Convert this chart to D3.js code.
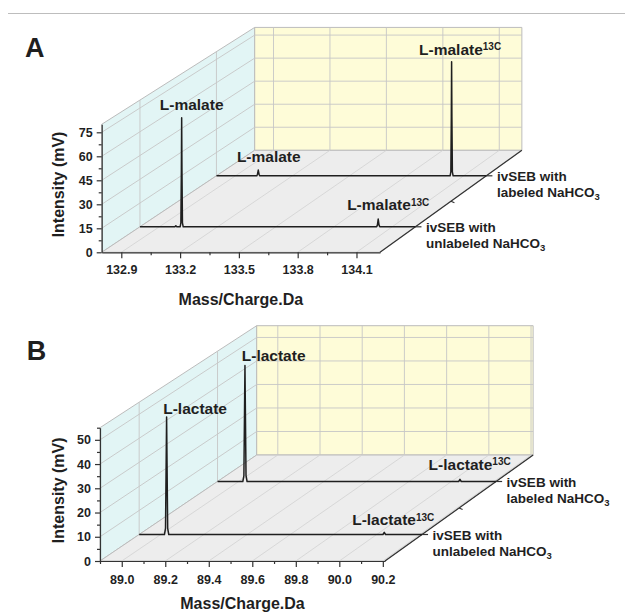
<!DOCTYPE html>
<html>
<head>
<meta charset="utf-8">
<script src="https://cdn.jsdelivr.net/npm/d3@7"></script>
<style>
  body { margin: 0; background: #fff; }
  svg { display: block; font-family: Arial, "Liberation Sans", sans-serif; font-weight: bold; }
</style>
</head>
<body>
<svg width="625" height="615"></svg>
<script>
// tick labels
const malateMassTicks = [132.9, 133.2, 133.5, 133.8, 134.1];
const malateIntensityTicks = [0, 15, 30, 45, 60, 75];
const lactateMassTicks = [89.0, 89.2, 89.4, 89.6, 89.8, 90.0, 90.2];
const lactateIntensityTicks = [0, 10, 20, 30, 40, 50];

// samples, front to back
const samples = ["unlabeled", "labeled"];

// spectra [m/z, intensity (mV)]
const malateUnlabeled = [
  [132.80, 0], [132.980, 0], [132.985, 0.7], [132.990, 0],
  [133.007, 0], [133.011, 2.5], [133.0135, 36], [133.015, 68.8], [133.0165, 36], [133.019, 2.5], [133.023, 0],
  [134.020, 0], [134.024, 1.2], [134.028, 4.9], [134.032, 1.2], [134.036, 0],
  [134.22, 0]
];
const malateLabeled = [
  [132.80, 0],
  [133.012, 0], [133.016, 1], [133.020, 3.7], [133.024, 1], [133.028, 0],
  [134.029, 0], [134.033, 2.5], [134.0355, 38], [134.037, 73.5], [134.0385, 38], [134.041, 2.5], [134.045, 0],
  [134.22, 0]
];
const lactateUnlabeled = [
  [88.90, 0],
  [89.017, 0], [89.022, 2.5], [89.025, 30], [89.027, 48.8], [89.029, 30], [89.032, 2.5], [89.037, 0],
  [90.029, 0], [90.035, 0.9], [90.041, 0],
  [90.21, 0]
];
const lactateLabeled = [
  [88.90, 0],
  [89.019, 0], [89.024, 2.5], [89.027, 30], [89.029, 49.0], [89.031, 30], [89.034, 2.5], [89.039, 0],
  [90.034, 0], [90.040, 0.9], [90.046, 0],
  [90.21, 0]
];

// peak annotations [sample index, m/z, name, isotope]
const malatePeaks = [
  [0, 133.015, "L-malate", ""],
  [0, 134.028, "L-malate", "13C"],
  [1, 133.020, "L-malate", ""],
  [1, 134.037, "L-malate", "13C"]
];
const lactatePeaks = [
  [0, 89.027, "L-lactate", ""],
  [0, 90.035, "L-lactate", "13C"],
  [1, 89.029, "L-lactate", ""],
  [1, 90.040, "L-lactate", "13C"]
];

// panel layouts
const panels = [
  {
    letter: "A", letterPos: [25, 56.7],
    domain: [132.8, 134.22], yMax: 80,
    ticks: malateMassTicks, yTicks: malateIntensityTicks,
    spectra: [malateUnlabeled, malateLabeled], peaks: malatePeaks,
    labelShift: [[10, -8], [10, -9], [10.5, -8], [8.5, -7]],
    origin: [101.7, 252.3], width: 278.3, height: 128, depth: [153, -102], shrink: 0.04,
    xTitleY: 305, tickPad: 7.3
  },
  {
    letter: "B", letterPos: [26.7, 360],
    domain: [88.9, 90.21], yMax: 55,
    ticks: lactateMassTicks, yTicks: lactateIntensityTicks,
    spectra: [lactateUnlabeled, lactateLabeled], peaks: lactatePeaks,
    labelShift: [[28.5, -3.5], [9, -7.3], [28.7, -4], [9.7, -9.4]],
    origin: [100, 561], width: 285, height: 133.3, depth: [156.7, -106], shrink: 0.03,
    xTitleY: 608.5, tickPad: 7.8
  }
];

const sampleDepths = [0.25, 0.75];
const ink = "#1f1f1f";
const gridColor = "#c6c6c6";

const svg = d3.select("svg");

// top rule
svg.append("line")
  .attr("x1", 8).attr("x2", 625)
  .attr("y1", 13.5).attr("y2", 13.5)
  .attr("stroke", "#bdbdbd")
  .attr("stroke-width", 1.2);

// midpoints between major ticks, kept inside the domain
function minorTicks(ticks, lo, hi) {
  const step = ticks[1] - ticks[0];
  const out = [];
  ticks.forEach(t => {
    [t - step / 2, t + step / 2].forEach(m => {
      if (m >= lo - 1e-9 && m <= hi + 1e-9 && !out.some(o => Math.abs(o - m) < 1e-9)) out.push(m);
    });
  });
  return out;
}

panels.forEach(p => {
  const ox = p.origin[0], oy = p.origin[1];

  // define scales (front plane)
  const x = d3.scaleLinear().domain(p.domain).range([ox, ox + p.width]);
  const y = d3.scaleLinear().domain([0, p.yMax]).range([oy, oy - p.height]);

  // oblique projection with slight shrink toward the back
  function pt(mz, v, z) {
    const s = 1 - p.shrink * z;
    return [
      ox + p.depth[0] * z + s * (x(mz) - ox),
      oy + p.depth[1] * z + s * (y(v) - oy)
    ];
  }

  const g = svg.append("g");
  const x0 = p.domain[0], x1 = p.domain[1], top = p.yMax;

  const poly = pts => "M" + pts.map(q => q.join(",")).join("L") + "Z";
  function seg(a, b, color, w) {
    g.append("line")
      .attr("x1", a[0]).attr("y1", a[1])
      .attr("x2", b[0]).attr("y2", b[1])
      .attr("stroke", color)
      .attr("stroke-width", w);
  }

  // walls and floor
  g.append("path")
    .attr("d", poly([pt(x0, 0, 0), pt(x0, top, 0), pt(x0, top, 1), pt(x0, 0, 1)]))
    .attr("fill", "#e2f5f5").attr("stroke", "#bcbcbc").attr("stroke-width", 1);
  g.append("path")
    .attr("d", poly([pt(x0, 0, 1), pt(x1, 0, 1), pt(x1, top, 1), pt(x0, top, 1)]))
    .attr("fill", "#fefcd8").attr("stroke", "#bcbcbc").attr("stroke-width", 1);
  g.append("path")
    .attr("d", poly([pt(x0, 0, 0), pt(x1, 0, 0), pt(x1, 0, 1), pt(x0, 0, 1)]))
    .attr("fill", "#ededed").attr("stroke", "#bcbcbc").attr("stroke-width", 1);

  // grid lines
  p.yTicks.filter(v => v > 0).forEach(v => {
    seg(pt(x0, v, 0), pt(x0, v, 1), gridColor, 0.9);
    seg(pt(x0, v, 1), pt(x1, v, 1), gridColor, 0.9);
  });
  p.ticks.forEach(t => {
    seg(pt(t, 0, 1), pt(t, top, 1), gridColor, 0.9);
    seg(pt(t, 0, 0), pt(t, 0, 1), "#d2d2d2", 0.8);
  });
  sampleDepths.forEach(z => {
    seg(pt(x0, 0, z), pt(x0, top, z), gridColor, 0.9);
  });

  // right floor edge (depth axis)
  seg(pt(x1, 0, 0), pt(x1, 0, 1), "#333", 1.2);
  sampleDepths.forEach(z => {
    const a = pt(x1, 0, z);
    seg(a, [a[0] + 6, a[1]], "#333", 1.2);
  });
  const mid = pt(x1, 0, 0.5);
  seg(mid, [mid[0] + 3.5, mid[1] + 1.5], "#333", 1.1);

  // spectra
  const line = d3.line();
  p.spectra.forEach((spec, i) => {
    g.append("path")
      .attr("d", line(spec.map(d => pt(d[0], d[1], sampleDepths[i]))))
      .attr("fill", "none")
      .attr("stroke", ink)
      .attr("stroke-width", 1.5)
      .attr("stroke-linejoin", "round");
  });

  // axes
  const xAxis = g.append("g")
    .attr("transform", "translate(0," + oy + ")")
    .call(d3.axisBottom(x).tickValues(p.ticks).tickFormat(d3.format(".1f"))
      .tickSize(6).tickSizeOuter(0).tickPadding(p.tickPad));
  g.append("g")
    .attr("transform", "translate(0," + oy + ")")
    .call(d3.axisBottom(x).tickValues(minorTicks(p.ticks, x0, x1)).tickFormat("")
      .tickSize(3).tickSizeOuter(0))
    .select(".domain").remove();
  const yAxis = g.append("g")
    .attr("transform", "translate(" + ox + ",0)")
    .call(d3.axisLeft(y).tickValues(p.yTicks).tickFormat(d3.format("d"))
      .tickSize(5).tickSizeOuter(0).tickPadding(4));
  g.append("g")
    .attr("transform", "translate(" + ox + ",0)")
    .call(d3.axisLeft(y).tickValues(minorTicks(p.yTicks, 0, top)).tickFormat("")
      .tickSize(3).tickSizeOuter(0))
    .select(".domain").remove();

  g.selectAll(".tick line, .domain")
    .attr("stroke", "#333")
    .attr("stroke-width", 1.2);
  [xAxis, yAxis].forEach(a => {
    a.attr("font-family", null).attr("font-size", null);
    a.selectAll("text")
      .attr("fill", ink)
      .style("font-size", "12.5px")
      .style("font-weight", "bold");
  });

  // axis titles
  g.append("text")
    .attr("transform", "translate(58.3," + (oy - p.height * 0.53) + ") rotate(-90)")
    .attr("text-anchor", "middle")
    .attr("dy", "0.35em")
    .attr("fill", ink)
    .style("font-size", "16px")
    .text("Intensity (mV)");
  g.append("text")
    .attr("x", ox + p.width / 2)
    .attr("y", p.xTitleY)
    .attr("text-anchor", "middle")
    .attr("fill", ink)
    .style("font-size", "16px")
    .text("Mass/Charge.Da");

  // panel letter
  g.append("text")
    .attr("x", p.letterPos[0])
    .attr("y", p.letterPos[1])
    .attr("fill", ink)
    .style("font-size", "27px")
    .text(p.letter);

  // peak labels
  p.peaks.forEach((pk, i) => {
    const spec = p.spectra[pk[0]];
    const apex = d3.max(spec.filter(d => Math.abs(d[0] - pk[1]) < 0.01), d => d[1]);
    const a = pt(pk[1], apex, sampleDepths[pk[0]]);
    const t = g.append("text")
      .attr("x", a[0] + p.labelShift[i][0])
      .attr("y", a[1] + p.labelShift[i][1])
      .attr("text-anchor", "middle")
      .attr("fill", ink)
      .style("font-size", "15.5px");
    t.append("tspan").text(pk[2]);
    if (pk[3]) {
      t.append("tspan")
        .attr("dy", "-0.45em")
        .style("font-size", "10px")
        .text(pk[3]);
    }
  });

  // sample names
  samples.forEach((name, i) => {
    const a = pt(x1, 0, sampleDepths[i]);
    const t1 = g.append("text")
      .attr("x", a[0] + 10.5)
      .attr("y", a[1] + 5)
      .attr("fill", ink)
      .style("font-size", "13.5px")
      .text("ivSEB with");
    const t2 = g.append("text")
      .attr("x", a[0] + 10.5)
      .attr("y", a[1] + 21.5)
      .attr("fill", ink)
      .style("font-size", "13.5px");
    t2.append("tspan").text(name + " NaHCO");
    t2.append("tspan")
      .attr("dy", "0.3em")
      .style("font-size", "9.5px")
      .text("3");
  });
});
</script>
</body>
</html>
